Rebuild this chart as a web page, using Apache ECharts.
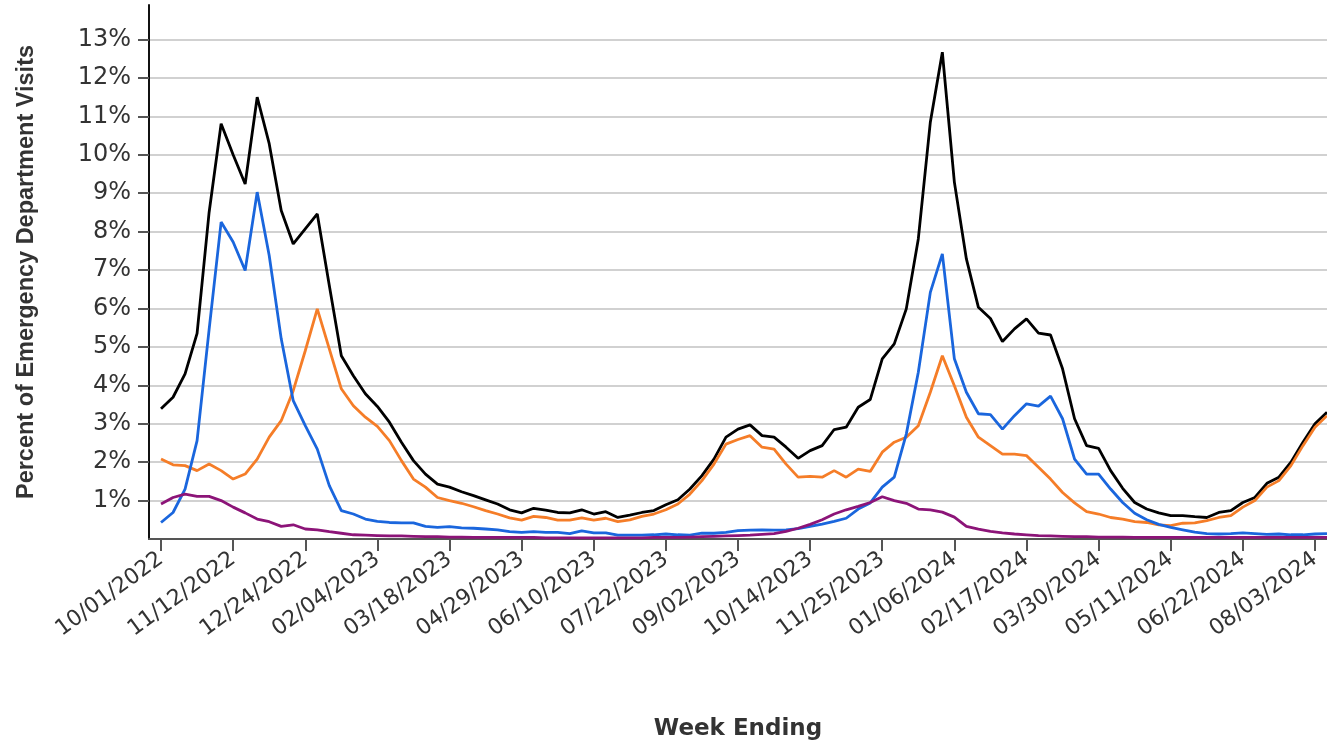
<!DOCTYPE html>
<html>
<head>
<meta charset="utf-8">
<script src="https://cdn.jsdelivr.net/npm/echarts@6/dist/echarts.min.js"></script>
<style>
html,body{margin:0;padding:0;background:#ffffff;}
#chart{width:1327px;height:740px;}
</style>
</head>
<body>
<div id="chart"></div>
<script>
// Week-ending dates (weekly, starting 10/01/2022), 98 weeks
const firstWeekEnding = Date.UTC(2022, 9, 1);
const weekCount = 98;
const weekEnding = [];
for (let i = 0; i < weekCount; i++) {
  const d = new Date(firstWeekEnding + i * 7 * 86400000);
  const mm = String(d.getUTCMonth() + 1).padStart(2, '0');
  const dd = String(d.getUTCDate()).padStart(2, '0');
  weekEnding.push(mm + '/' + dd + '/' + d.getUTCFullYear());
}

// Week indexes that carry a date label
const xTickWeeks = [0, 6, 12, 18, 24, 30, 36, 42, 48, 54, 60, 66, 72, 78, 84, 90, 96];
// Percent tick values
const yTickValues = [1, 2, 3, 4, 5, 6, 7, 8, 9, 10, 11, 12, 13];

// Combined (black)
const combined = [
  3.39, 3.69, 4.30, 5.35, 8.50, 10.81, 10.00, 9.24, 11.50, 10.29,
  8.55, 7.68, 8.07, 8.46, 6.60, 4.77, 4.25, 3.78, 3.45, 3.04,
  2.52, 2.04, 1.69, 1.43, 1.35, 1.23, 1.13, 1.02, 0.91, 0.76,
  0.68, 0.80, 0.75, 0.69, 0.68, 0.76, 0.65, 0.71, 0.56, 0.62,
  0.69, 0.74, 0.89, 1.02, 1.30, 1.65, 2.08, 2.65, 2.86, 2.97,
  2.69, 2.65, 2.39, 2.10, 2.30, 2.43, 2.85, 2.91, 3.43, 3.63,
  4.69, 5.08, 5.99, 7.81, 10.85, 12.67, 9.29, 7.29, 6.03, 5.74,
  5.14, 5.47, 5.73, 5.36, 5.31, 4.43, 3.13, 2.43, 2.36, 1.78,
  1.32, 0.95, 0.78, 0.68, 0.61, 0.61, 0.58, 0.56, 0.69, 0.74,
  0.95, 1.08, 1.45, 1.61, 2.00, 2.52, 3.00, 3.30
];
// COVID-19 (orange)
const covid = [
  2.08, 1.93, 1.91, 1.78, 1.95, 1.78, 1.56, 1.69, 2.08, 2.65,
  3.08, 3.86, 4.90, 5.99, 4.95, 3.91, 3.47, 3.17, 2.93, 2.56,
  2.04, 1.56, 1.35, 1.08, 1.00, 0.93, 0.84, 0.74, 0.65, 0.55,
  0.49, 0.59, 0.56, 0.49, 0.49, 0.55, 0.49, 0.54, 0.45, 0.50,
  0.59, 0.65, 0.76, 0.91, 1.17, 1.52, 1.95, 2.47, 2.59, 2.69,
  2.39, 2.34, 1.95, 1.61, 1.63, 1.61, 1.78, 1.61, 1.82, 1.76,
  2.26, 2.52, 2.65, 2.95, 3.82, 4.77, 3.99, 3.17, 2.65, 2.43,
  2.21, 2.21, 2.17, 1.87, 1.56, 1.21, 0.94, 0.71, 0.65, 0.56,
  0.52, 0.45, 0.43, 0.37, 0.35, 0.41, 0.42, 0.48, 0.56, 0.61,
  0.83, 1.00, 1.35, 1.52, 1.91, 2.43, 2.91, 3.21
];
// Influenza (blue)
const influenza = [
  0.43, 0.69, 1.30, 2.56, 5.45, 8.25, 7.73, 6.99, 9.03, 7.38,
  5.21, 3.60, 2.95, 2.34, 1.39, 0.74, 0.65, 0.52, 0.46, 0.43,
  0.42, 0.42, 0.33, 0.30, 0.32, 0.29, 0.28, 0.26, 0.24, 0.19,
  0.17, 0.19, 0.17, 0.17, 0.14, 0.21, 0.16, 0.16, 0.10, 0.10,
  0.10, 0.11, 0.13, 0.11, 0.10, 0.15, 0.15, 0.17, 0.22, 0.23,
  0.24, 0.23, 0.24, 0.27, 0.33, 0.39, 0.46, 0.54, 0.78, 0.94,
  1.35, 1.61, 2.73, 4.34, 6.42, 7.42, 4.69, 3.82, 3.26, 3.24,
  2.86, 3.21, 3.52, 3.46, 3.72, 3.13, 2.08, 1.69, 1.69, 1.30,
  0.95, 0.67, 0.50, 0.38, 0.30, 0.24, 0.18, 0.14, 0.13, 0.14,
  0.16, 0.14, 0.12, 0.13, 0.11, 0.11, 0.13, 0.14
];
// RSV (purple)
const rsv = [
  0.91, 1.08, 1.17, 1.11, 1.11, 1.00, 0.83, 0.68, 0.52, 0.45,
  0.33, 0.37, 0.26, 0.24, 0.19, 0.15, 0.11, 0.10, 0.09, 0.08,
  0.08, 0.07, 0.06, 0.06, 0.05, 0.05, 0.04, 0.04, 0.04, 0.04,
  0.04, 0.04, 0.03, 0.03, 0.03, 0.03, 0.03, 0.03, 0.03, 0.03,
  0.03, 0.04, 0.04, 0.04, 0.05, 0.06, 0.07, 0.08, 0.09, 0.10,
  0.12, 0.14, 0.20, 0.28, 0.38, 0.50, 0.65, 0.76, 0.85, 0.95,
  1.10, 1.00, 0.93, 0.78, 0.76, 0.70, 0.57, 0.33, 0.26, 0.20,
  0.16, 0.13, 0.11, 0.09, 0.08, 0.07, 0.06, 0.06, 0.05, 0.05,
  0.05, 0.04, 0.04, 0.04, 0.04, 0.04, 0.04, 0.04, 0.04, 0.04,
  0.04, 0.04, 0.04, 0.04, 0.04, 0.04, 0.04, 0.04
];

const toPoints = arr => arr.map((v, i) => [i, v]);

const chart = echarts.init(document.getElementById('chart'), null, {renderer: 'canvas'});
const lineSeries = (name, color, arr, z) => ({
  name: name,
  type: 'line',
  data: toPoints(arr),
  showSymbol: false,
  symbol: 'none',
  smooth: false,
  z: z,
  lineStyle: {color: color, width: 2.8},
  itemStyle: {color: color},
  emphasis: {disabled: true}
});

chart.setOption({
  animation: false,
  backgroundColor: '#ffffff',
  grid: {left: 149, right: 0, top: 5, bottom: 201, containLabel: false, outerBoundsMode: 'none'},
  xAxis: {
    type: 'value',
    min: -1,
    max: weekCount - 1,
    name: 'Week Ending',
    nameLocation: 'middle',
    nameGap: 179,
    nameTextStyle: {fontFamily: 'DejaVu Sans', fontWeight: 'bold', fontSize: 23, color: '#333333'},
    axisLine: {show: true, onZero: false, lineStyle: {color: '#555555', width: 2}},
    axisTick: {show: true, customValues: xTickWeeks, length: 12, lineStyle: {color: '#555555', width: 2}},
    axisLabel: {
      customValues: xTickWeeks,
      rotate: 36,
      margin: 18,
      fontFamily: 'DejaVu Sans',
      fontSize: 22,
      color: '#333333',
      formatter: v => weekEnding[v]
    },
    splitLine: {show: false}
  },
  yAxis: {
    type: 'value',
    min: 0,
    max: 13.9,
    name: 'Percent of Emergency Department Visits',
    nameLocation: 'middle',
    nameRotate: 90,
    nameGap: 110,
    nameTextStyle: {fontFamily: 'Liberation Sans', fontWeight: 'bold', fontSize: 23.5, color: '#333333'},
    axisLine: {show: true, onZero: false, lineStyle: {color: '#111111', width: 2}},
    axisTick: {show: true, customValues: yTickValues, length: 11, lineStyle: {color: '#555555', width: 2}},
    axisLabel: {
      customValues: yTickValues,
      margin: 18,
      fontFamily: 'DejaVu Sans',
      fontSize: 24,
      color: '#333333',
      formatter: '{value}%'
    },
    splitLine: {show: true, lineStyle: {color: '#c2c2c2', width: 1.5}}
  },
  series: [
    lineSeries('Combined', '#000000', combined, 2),
    lineSeries('COVID-19', '#f57d28', covid, 3),
    lineSeries('Influenza', '#1a66dd', influenza, 4),
    lineSeries('RSV', '#8c1478', rsv, 5)
  ]
});
</script>
</body>
</html>
